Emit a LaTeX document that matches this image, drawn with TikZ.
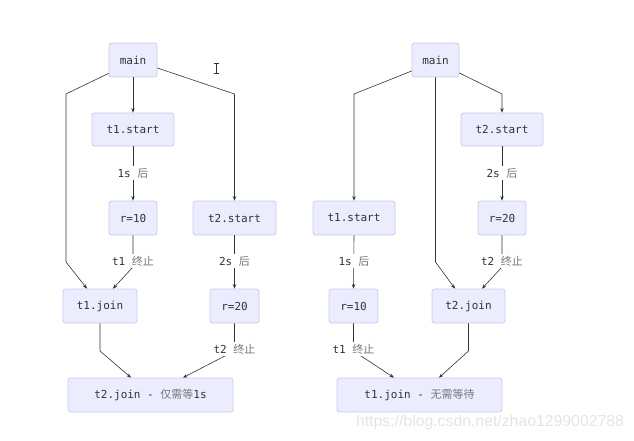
\documentclass[tikz,border=0pt]{standalone}
\usepackage{fontspec}
\setmonofont{DejaVu Sans Mono}
\setsansfont{Liberation Sans}
\newfontfamily\cjk{Noto Sans CJK SC}
\usetikzlibrary{arrows.meta}
\definecolor{boxfill}{HTML}{ECECFF}
\definecolor{boxline}{HTML}{C8C8F0}
\definecolor{txt}{HTML}{333333}
\definecolor{zhgray}{HTML}{777777}
\definecolor{edge}{HTML}{333333}
\definecolor{wmark}{HTML}{E4E4E4}
\newcommand{\zh}[1]{{\cjk\color{zhgray}#1}}
\tikzset{
  box/.style={draw=boxline, fill=boxfill, line width=0.7pt, rounded corners=2.5pt,
    inner sep=0pt, minimum height=34pt, font=\ttfamily\fontsize{11}{13}\selectfont, text=txt},
  arr/.style={draw=edge, line width=0.6pt, -{Stealth[length=4.5pt,width=3.5pt]}},
  elabel/.style={fill=white, inner sep=1.5pt, font=\ttfamily\fontsize{11}{13}\selectfont, text=txt},
}
\begin{document}
\begin{tikzpicture}[x=1pt,y=-1pt]
\useasboundingbox (0,0) rectangle (634,441);
% ---------- left diagram ----------
\node[box, minimum width=48pt] (main) at (133,60) {main};
\node[box, minimum width=82pt, minimum height=33pt] (t1s) at (133,129.5) {t1.start};
\node[box, minimum width=48pt] (r10) at (133,218) {r=10};
\node[box, minimum width=83pt] (t2s) at (234.5,218) {t2.start};
\node[box, minimum width=74pt] (t1j) at (100,306) {t1.join};
\node[box, minimum width=49pt] (r20) at (234.5,306) {r=20};
\node[box, minimum width=165pt] (t2j) at (150.5,395) {t2.join - \zh{仅需等}1s};

\coordinate (a1) at (66,94);
\coordinate (a2) at (66,262);
\coordinate (b1) at (234.5,94);
\coordinate (c1) at (133,267);
\coordinate (d1) at (100,351);
\coordinate (e1) at (234.5,351);

\draw[arr] ([yshift=4pt]main.south west) -- (a1) -- (a2) -- ([xshift=-13pt]t1j.north);
\draw[arr] (main.south) -- (t1s.north);
\draw[arr] ([yshift=-8pt]main.east) -- (b1) -- (t2s.north);
\draw[arr] (t1s.south) -- (r10.north);
\draw[arr] (r10.south) -- (c1) -- ([xshift=13pt]t1j.north);
\draw[arr] (t2s.south) -- (r20.north);
\draw[arr] (t1j.south) -- (d1) -- ([xshift=-19.5pt]t2j.north);
\draw[arr] (r20.south) -- (e1) -- ([xshift=32.5pt]t2j.north);

\node[elabel] (l1) at (133,173) {1s \zh{后}};
\node[elabel] (l2) at (133,261) {t1 \zh{终止}};
\node[elabel] (l3) at (234.5,261) {2s \zh{后}};
\node[elabel] (l4) at (234.5,349) {t2 \zh{终止}};

% cursor
\draw[line width=0.7pt, draw=txt] (216,63.5) -- (216,73);
\draw[line width=0.5pt, draw=txt] (213.5,63.5) -- (218.5,63.5);
\draw[line width=0.5pt, draw=txt] (213.5,73) -- (218.5,73);

% ---------- right diagram ----------
\node[box, minimum width=47pt] (mainR) at (435.5,60) {main};
\node[box, minimum width=82pt, minimum height=33pt] (t2sR) at (502,129.5) {t2.start};
\node[box, minimum width=82pt] (t1sR) at (354,218) {t1.start};
\node[box, minimum width=48pt] (r20R) at (502,218) {r=20};
\node[box, minimum width=49pt] (r10R) at (353.5,306) {r=10};
\node[box, minimum width=73pt] (t2jR) at (468.5,306) {t2.join};
\node[box, minimum width=165pt] (t1jR) at (419.5,395) {t1.join - \zh{无需等待}};

\coordinate (f1) at (354,94);
\coordinate (g1) at (435.5,262);
\coordinate (h1) at (502,94);
\coordinate (i1) at (502,267);
\coordinate (j1) at (353.5,351);
\coordinate (k1) at (468.5,351);

\draw[arr] ([yshift=-11pt]mainR.west) -- (f1) -- (t1sR.north);
\draw[arr] (mainR.south) -- (g1) -- ([xshift=-13.5pt]t2jR.north);
\draw[arr] ([yshift=-13pt]mainR.east) -- (h1) -- (t2sR.north);
\draw[arr] (t2sR.south) -- (r20R.north);
\draw[arr] (t1sR.south) -- (r10R.north);
\draw[arr] (r20R.south) -- (i1) -- ([xshift=13.5pt]t2jR.north);
\draw[arr] (r10R.south) -- (j1) -- ([xshift=-25.5pt]t1jR.north);
\draw[arr] (t2jR.south) -- (k1) -- ([xshift=19.5pt]t1jR.north);

\node[elabel] (m1) at (502,173) {2s \zh{后}};
\node[elabel] (m2) at (354,261) {1s \zh{后}};
\node[elabel] (m3) at (502,261) {t2 \zh{终止}};
\node[elabel] (m4) at (353.5,349) {t1 \zh{终止}};

% watermark
\node[font=\sffamily\fontsize{15.8}{18}\selectfont, text=wmark, inner sep=0pt] (wm) at (490,422) {https://blog.csdn.net/zhao1299002788};
\end{tikzpicture}
\end{document}
